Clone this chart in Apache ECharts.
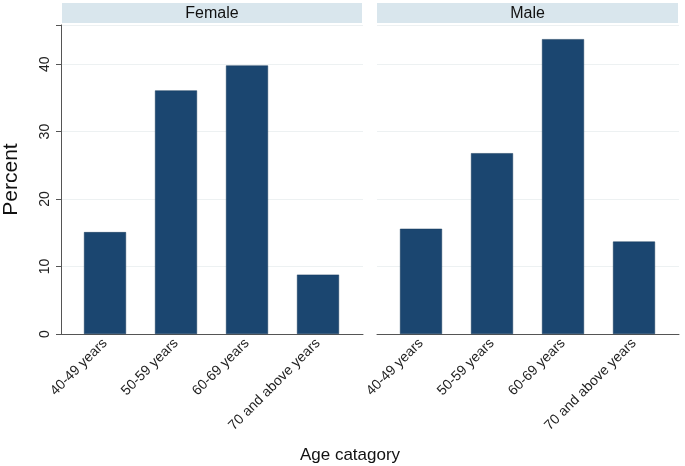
<!DOCTYPE html>
<html>
<head>
<meta charset="utf-8">
<script src="https://cdn.jsdelivr.net/npm/echarts@6/dist/echarts.min.js"></script>
<style>html,body{margin:0;padding:0;background:#fff}#c{width:685px;height:466px}</style>
</head>
<body>
<div id="c"></div>
<script>
var categories = ['40-49 years', '50-59 years', '60-69 years', '70 and above years'];
var femaleValues = [15.1, 36.1, 39.8, 8.8];
var maleValues = [15.6, 26.8, 43.7, 13.7];
var panelTitles = ['Female', 'Male'];
var yTicks = [0, 10, 20, 30, 40];

var chart = echarts.init(document.getElementById('c'));
var FONT = 'Liberation Sans, Arial, sans-serif';
var TOP = 25, H = 309, YMAX = 45.8;
var barColor = '#1b4670';
var axisColor = '#555555';
var gridColor = '#edf1f2';

function frameY(idx, showAxis) {
  return {
    type: 'value', gridIndex: idx, min: 0, max: YMAX, interval: 10,
    axisLine: {show: showAxis, lineStyle: {color: axisColor, width: 1}},
    axisTick: {show: showAxis, length: 5, lineStyle: {color: axisColor}},
    axisLabel: {show: showAxis, rotate: 90, margin: 9, fontSize: 14, color: '#222', fontFamily: FONT,
      formatter: function (v) { return yTicks.indexOf(v) >= 0 ? String(v) : ''; }},
    splitLine: {show: true, lineStyle: {color: gridColor, width: 1}},
    name: showAxis ? 'Percent' : '', nameLocation: 'middle', nameGap: 39,
    nameTextStyle: {fontSize: 21, color: '#111', fontFamily: FONT}
  };
}
function barY(idx) {
  return {type: 'value', gridIndex: idx, min: 0, max: YMAX, interval: 10, show: false};
}
function frameX(idx) {
  return {type: 'value', gridIndex: idx, min: 0, max: 1,
    axisLine: {show: true, onZero: false, lineStyle: {color: axisColor, width: 1}},
    axisTick: {show: false}, axisLabel: {show: false}, splitLine: {show: false}};
}
function barX(idx) {
  return {type: 'category', gridIndex: idx, data: categories, boundaryGap: true,
    axisLine: {show: false}, axisTick: {show: false},
    axisLabel: {rotate: 45, margin: 7, fontSize: 14, color: '#222', fontFamily: FONT, interval: 0}};
}

var option = {
  backgroundColor: '#fff',
  animation: false,
  grid: [
    {left: 60, top: TOP, width: 303, height: H},
    {left: 69.5, top: TOP, width: 284, height: H},
    {left: 377, top: TOP, width: 302, height: H},
    {left: 385.5, top: TOP, width: 284, height: H}
  ],
  xAxis: [frameX(0), barX(1), frameX(2), barX(3)],
  yAxis: [frameY(0, true), barY(1), frameY(2, false), barY(3)],
  series: [
    {type: 'bar', xAxisIndex: 1, yAxisIndex: 1, data: femaleValues, barWidth: 42,
      itemStyle: {color: barColor, borderColor: '#14385a', borderWidth: 0.5}},
    {type: 'bar', xAxisIndex: 3, yAxisIndex: 3, data: maleValues, barWidth: 42,
      itemStyle: {color: barColor, borderColor: '#14385a', borderWidth: 0.5}}
  ],
  graphic: [
    {type: 'rect', shape: {x: 62, y: 3, width: 300, height: 20}, style: {fill: '#d9e6ed'}},
    {type: 'text', x: 212, y: 13.5, style: {text: panelTitles[0], fill: '#111', font: '16px ' + FONT, align: 'center', verticalAlign: 'middle'}},
    {type: 'rect', shape: {x: 377, y: 3, width: 301, height: 20}, style: {fill: '#d9e6ed'}},
    {type: 'text', x: 527.5, y: 13.5, style: {text: panelTitles[1], fill: '#111', font: '16px ' + FONT, align: 'center', verticalAlign: 'middle'}},
    {type: 'text', x: 350, y: 455, style: {text: 'Age catagory', font: '17px ' + FONT, fill: '#111', align: 'center', verticalAlign: 'middle'}}
  ]
};
chart.setOption(option);
</script>
</body>
</html>
